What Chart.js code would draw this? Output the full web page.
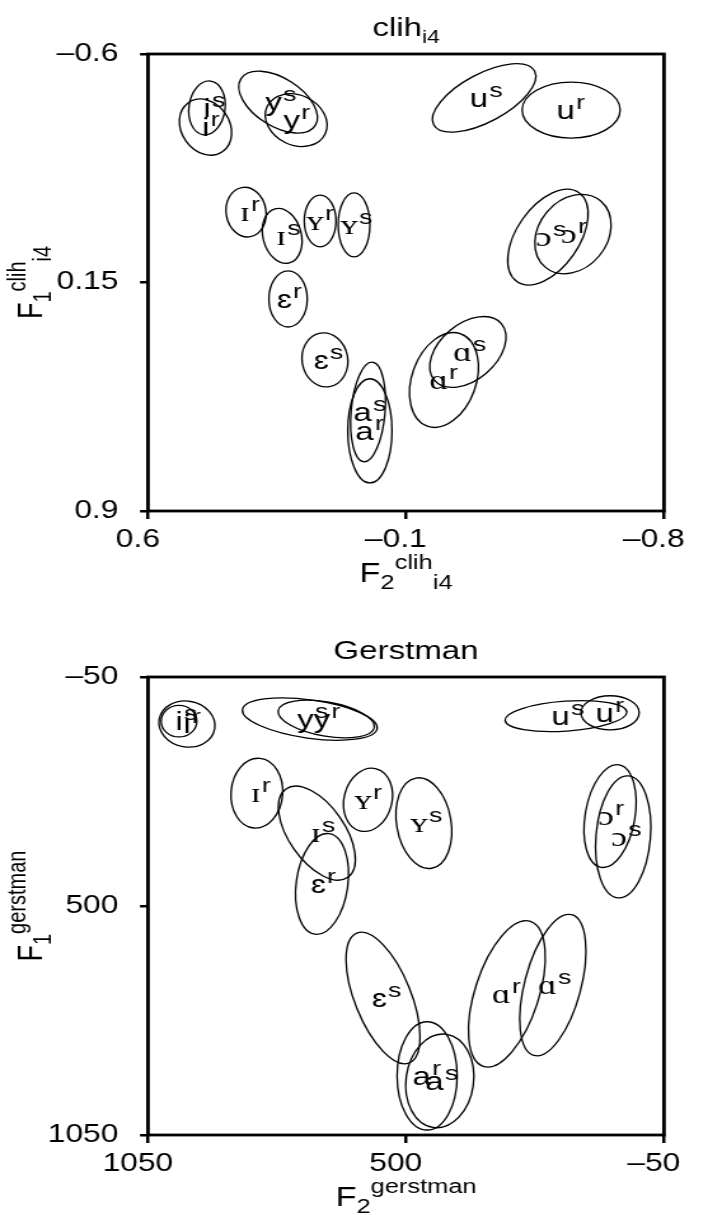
<!DOCTYPE html>
<html>
<head>
<meta charset="utf-8">
<script src="https://cdn.jsdelivr.net/npm/chart.js@4.4.1/dist/chart.umd.min.js"></script>
<style>
  body { margin: 0; background: #fff; }
  .panel { width: 708px; overflow: hidden; }
  .panel canvas { display: block; transform: scaleX(1.2711); transform-origin: 0 0; }
</style>
</head>
<body>
<div class="panel" style="height:608px"><canvas id="clih" width="557" height="608"></canvas></div>
<div class="panel" style="height:607px"><canvas id="gerstman" width="557" height="607"></canvas></div>
<script>
// vowel / speaker of every ellipse (same order in both panels)
const vowels   = ['i','i','y','y','ɪ','ɪ','ʏ','ʏ','ɛ','ɛ','a','a','ɑ','ɑ','u','u','ɔ','ɔ'];
const speakers = ['s','r','s','r','s','r','s','r','s','r','s','r','s','r','s','r','s','r'];

// clih_i4 normalisation
const clihF2 = [0.440, 0.444, 0.247, 0.198, 0.236, 0.334, 0.041, 0.133, 0.120, 0.220, 0.003, -0.002, -0.268, -0.203, -0.312, -0.548, -0.485, -0.553];
const clihF1 = [-0.423, -0.360, -0.442, -0.383, -0.003, -0.081, -0.039, -0.052, 0.404, 0.204, 0.575, 0.637, 0.378, 0.470, -0.456, -0.416, 0.001, -0.009];
const clihF2Spread = [0.049, 0.081, 0.119, 0.087, 0.052, 0.054, 0.043, 0.043, 0.062, 0.052, 0.046, 0.060, 0.119, 0.087, 0.155, 0.133, 0.147, 0.117];
const clihF1Spread = [0.089, 0.079, 0.079, 0.082, 0.092, 0.082, 0.105, 0.085, 0.089, 0.092, 0.164, 0.171, 0.092, 0.161, 0.079, 0.092, 0.102, 0.112];
const clihTilt = [8, 55, 32, 25, -15, -10, 0, 0, -10, 0, 5, 0, -40, 20, -28, 0, -55, -50];
const clihF2Ticks = [0.6, -0.1, -0.8];
const clihF1Ticks = [-0.6, 0.15, 0.9];

// Gerstman normalisation
const gerF2 = [984, 967, 705, 670, 690, 818, 462, 581, 549, 679, 428, 455, 187, 285, 159, 65, 37, 65];
const gerF1 = [56, 63, 51, 51, 325, 229, 301, 245, 721, 447, 920, 908, 690, 711, 44, 36, 334, 284];
const gerF2Spread = [38, 60, 145, 104, 115, 55, 58, 51, 60, 55, 72, 64, 60, 68, 130, 62, 58, 53];
const gerF1Spread = [38, 55, 46, 41, 67, 84, 110, 77, 168, 122, 113, 130, 175, 183, 36, 41, 147, 125];
const gerTilt = [0, 10, 8, 10, 55, 5, -10, 15, -22, 8, 8, 0, 15, 18, -4, 0, 5, 10];
const gerF2Ticks = [1050, 500, -50];
const gerF1Ticks = [-50, 500, 1050];

const STRETCH = 708 / 557;
const SANS = '"Liberation Sans", Arial, "DejaVu Sans", sans-serif';
const SERIF = '"Liberation Serif", "Times New Roman", "DejaVu Serif", serif';
const serifVowels = ['ɪ', 'ʏ', 'ɑ', 'ɔ'];

Chart.defaults.font.family = SANS;
Chart.defaults.color = '#000';

function fmt(v) {
  return v < 0 ? '–' + Math.abs(v) : String(v);
}

function drawParts(ctx, parts, cx, base) {
  let total = 0;
  parts.forEach(p => {
    ctx.font = p.size + 'px ' + SANS;
    p.w = ctx.measureText(p.text).width;
    total += p.w;
  });
  let xx = cx - total / 2;
  ctx.textAlign = 'left';
  ctx.textBaseline = 'alphabetic';
  parts.forEach(p => {
    ctx.font = p.size + 'px ' + SANS;
    ctx.fillText(p.text, xx, base + p.shift);
    xx += p.w;
  });
}

function ellipsePlugin(f2, f1, r2, r1, tilt) {
  return {
    id: 'ellipses',
    afterDatasetsDraw(chart) {
      const ctx = chart.ctx;
      const x = chart.scales.x, y = chart.scales.y;
      ctx.save();
      ctx.strokeStyle = '#000';
      ctx.lineWidth = 1.3;
      f2.forEach((v, i) => {
        const cx = x.getPixelForValue(v);
        const cy = y.getPixelForValue(f1[i]);
        const rx = Math.abs(x.getPixelForValue(v + r2[i]) - cx) * STRETCH;
        const ry = Math.abs(y.getPixelForValue(f1[i] + r1[i]) - cy);
        ctx.save();
        ctx.translate(cx, cy);
        ctx.scale(1 / STRETCH, 1);
        ctx.rotate(tilt[i] * Math.PI / 180);
        ctx.beginPath();
        ctx.ellipse(0, 0, rx, ry, 0, 0, 2 * Math.PI);
        ctx.restore();
        ctx.stroke();
      });
      ctx.fillStyle = '#000';
      ctx.textBaseline = 'alphabetic';
      f2.forEach((v, i) => {
        const cx = x.getPixelForValue(v);
        const cy = y.getPixelForValue(f1[i]);
        ctx.font = serifVowels.includes(vowels[i]) ? '28px ' + SERIF : '26px ' + SANS;
        ctx.textAlign = 'right';
        ctx.fillText(vowels[i], cx + 3, cy + 9);
        ctx.font = '21px ' + SANS;
        ctx.textAlign = 'left';
        ctx.fillText(speakers[i], cx + 4, cy - 1);
      });
      ctx.restore();
    }
  };
}

function framePlugin(title, titleY, xTitle, yTitle) {
  return {
    id: 'frame',
    afterDraw(chart) {
      const ctx = chart.ctx;
      const a = chart.chartArea;
      ctx.save();
      ctx.strokeStyle = '#000';
      ctx.lineWidth = 2.8;
      ctx.strokeRect(a.left, a.top, a.right - a.left, a.bottom - a.top);
      ctx.fillStyle = '#000';
      const mid = (a.left + a.right) / 2;
      drawParts(ctx, title, mid, titleY);
      drawParts(ctx, xTitle, mid, a.bottom + 71);
      ctx.translate(33, (a.top + a.bottom) / 2);
      ctx.rotate(-Math.PI / 2);
      drawParts(ctx, yTitle, 0, 0);
      ctx.restore();
    }
  };
}

function makePanel(id, p) {
  const points = p.f2.map((v, i) => ({ x: v, y: p.f1[i] }));
  return new Chart(document.getElementById(id), {
    type: 'scatter',
    data: { datasets: [{ data: points, pointRadius: 0, showLine: false }] },
    options: {
      responsive: false,
      animation: false,
      devicePixelRatio: 1,
      events: [],
      layout: { padding: { left: 0, right: 557 - 664 / STRETCH, top: p.top, bottom: 0 } },
      plugins: { legend: { display: false }, tooltip: { enabled: false } },
      scales: {
        x: {
          type: 'linear', min: p.xMin, max: p.xMax, reverse: true,
          afterBuildTicks: s => { s.ticks = p.xTicks.map(v => ({ value: v })); },
          afterFit: s => { s.height = p.xHeight; },
          border: { display: false },
          grid: { drawOnChartArea: false, drawTicks: true, tickLength: 8, color: '#000', lineWidth: 2.5 },
          ticks: { font: { size: 25 }, padding: 6, labelOffset: -8, maxRotation: 0, autoSkip: false, callback: fmt }
        },
        y: {
          type: 'linear', min: p.yMin, max: p.yMax, reverse: true,
          afterBuildTicks: s => { s.ticks = p.yTicks.map(v => ({ value: v })); },
          afterFit: s => { s.width = 148 / STRETCH; },
          border: { display: false },
          grid: { drawOnChartArea: false, drawTicks: true, tickLength: 6.3, color: '#000', lineWidth: 2.5 },
          ticks: { font: { size: 25 }, padding: 17, autoSkip: false, callback: fmt }
        }
      }
    },
    plugins: [ellipsePlugin(p.f2, p.f1, p.r2, p.r1, p.tilt), framePlugin(p.title, p.titleY, p.xTitle, p.yTitle)]
  });
}

makePanel('clih', {
  f2: clihF2, f1: clihF1, r2: clihF2Spread, r1: clihF1Spread, tilt: clihTilt,
  xMin: -0.8, xMax: 0.6, yMin: -0.6, yMax: 0.9, xTicks: clihF2Ticks, yTicks: clihF1Ticks,
  top: 54, xHeight: 97,
  title: [{ text: 'clih', size: 26, shift: 0 }, { text: 'i4', size: 18, shift: 7 }],
  titleY: 36,
  xTitle: [{ text: 'F', size: 27, shift: 0 }, { text: '2', size: 20, shift: 7 }, { text: 'clih', size: 20, shift: -13 }, { text: 'i4', size: 20, shift: 7 }],
  yTitle: [{ text: 'F', size: 27, shift: 0 }, { text: '1', size: 20, shift: 7 }, { text: 'clih', size: 20, shift: -13 }, { text: 'i4', size: 20, shift: 7 }]
});

makePanel('gerstman', {
  f2: gerF2, f1: gerF1, r2: gerF2Spread, r1: gerF1Spread, tilt: gerTilt,
  xMin: -50, xMax: 1050, yMin: -50, yMax: 1050, xTicks: gerF2Ticks, yTicks: gerF1Ticks,
  top: 69, xHeight: 80,
  title: [{ text: 'Gerstman', size: 26, shift: 0 }],
  titleY: 51,
  xTitle: [{ text: 'F', size: 27, shift: 0 }, { text: '2', size: 20, shift: 7 }, { text: 'gerstman', size: 20, shift: -13 }],
  yTitle: [{ text: 'F', size: 27, shift: 0 }, { text: '1', size: 20, shift: 7 }, { text: 'gerstman', size: 20, shift: -13 }]
});
</script>
</body>
</html>
